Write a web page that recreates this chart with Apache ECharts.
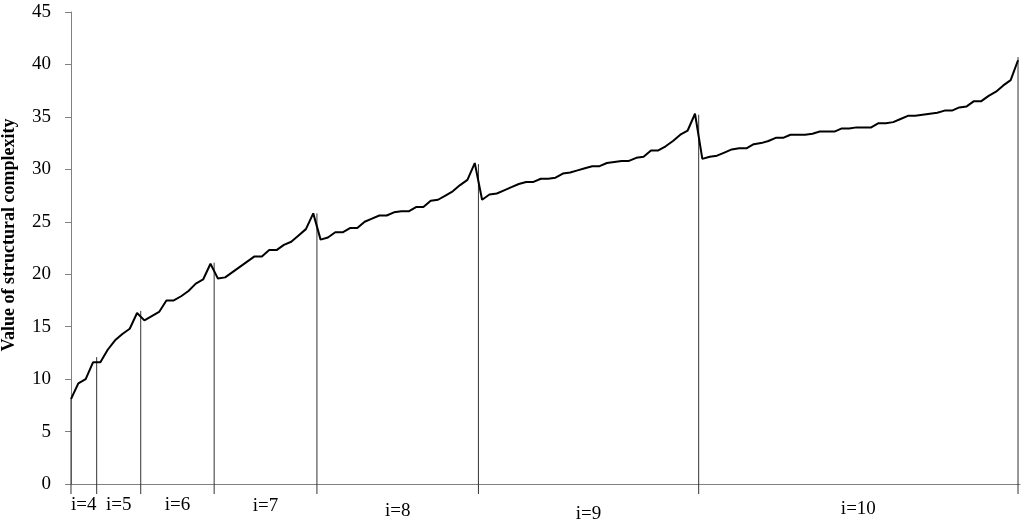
<!DOCTYPE html>
<html>
<head>
<meta charset="utf-8">
<script src="https://cdn.jsdelivr.net/npm/echarts@6/dist/echarts.min.js"></script>
<style>html,body{margin:0;background:#fff}#chart{width:1024px;height:524px}</style>
</head>
<body>
<div id="chart"></div>
<script>
// group labels
var groupNames = ['i=4', 'i=5', 'i=6', 'i=7', 'i=8', 'i=9', 'i=10'];

// structural complexity values, one array per group
var g4 = [8.1, 9.6, 10.0, 11.6];
var g5 = [11.6, 12.8, 13.7, 14.3, 14.8, 16.3];
var g6 = [15.6, 16.0, 16.4, 17.5, 17.5, 17.9, 18.4, 19.1, 19.5, 21.0];
var g7 = [19.6, 19.7, 20.2, 20.7, 21.2, 21.7, 21.7, 22.3, 22.3, 22.8, 23.1, 23.7, 24.3, 25.8];
var g8 = [23.3, 23.5, 24.0, 24.0, 24.4, 24.4, 25.0, 25.3, 25.6, 25.6, 25.9, 26.0, 26.0, 26.4, 26.4,
          27.0, 27.1, 27.5, 27.9, 28.5, 29.0, 30.6];
var g9 = [27.1, 27.6, 27.7, 28.0, 28.3, 28.6, 28.8, 28.8, 29.1, 29.1, 29.2, 29.6, 29.7, 29.9, 30.1,
          30.3, 30.3, 30.6, 30.7, 30.8, 30.8, 31.1, 31.2, 31.8, 31.8, 32.2, 32.7, 33.3, 33.7, 35.3];
var g10 = [31.0, 31.2, 31.3, 31.6, 31.9, 32.0, 32.0, 32.4, 32.5, 32.7, 33.0, 33.0, 33.3, 33.3, 33.3,
           33.4, 33.6, 33.6, 33.6, 33.9, 33.9, 34.0, 34.0, 34.0, 34.4, 34.4, 34.5, 34.8, 35.1, 35.1,
           35.2, 35.3, 35.4, 35.6, 35.6, 35.9, 36.0, 36.5, 36.5, 37.0, 37.4, 38.0, 38.5, 40.4];

// height of the separator lines between groups
var boundaryTops = [8.1, 12.1, 16.5, 21.1, 25.8, 30.5, 35.2, 40.7];

var groups = [g4, g5, g6, g7, g8, g9, g10];
var values = [].concat.apply([], groups);

// separator positions (in point index units)
var bounds = [0];
var n = 0;
groups.forEach(function (g, i) {
    n += g.length;
    bounds.push(i < groups.length - 1 ? n - 0.5 : n - 1);
});

// extra drop of each group label under the axis
var labelDrop = [21, 21, 21, 22, 27, 30, 25];

var chart = echarts.init(document.getElementById('chart'));
var serif = '"Liberation Serif", "Times New Roman", serif';

var option = {
    animation: false,
    grid: { left: 66, right: 4, top: 12, bottom: 40 },
    xAxis: {
        type: 'value',
        min: -0.68,
        max: 129.27,
        axisLine: { show: true, lineStyle: { color: '#808080', width: 1 } },
        axisTick: { show: false },
        axisLabel: { show: false },
        splitLine: { show: false }
    },
    yAxis: {
        type: 'value',
        min: 0,
        max: 45,
        interval: 5,
        axisLine: { show: true, lineStyle: { color: '#808080', width: 1 } },
        axisTick: { show: true, length: 6, lineStyle: { color: '#808080' } },
        axisLabel: { fontFamily: serif, fontSize: 19, color: '#000', margin: 15 },
        splitLine: { show: false }
    },
    graphic: [{
        type: 'text',
        x: 9,
        y: 235,
        rotation: Math.PI / 2,
        style: {
            text: 'Value of structural complexity',
            font: 'bold 18px ' + serif,
            fill: '#000',
            align: 'center',
            verticalAlign: 'middle'
        }
    }],
    series: [
        {
            type: 'line',
            data: values.map(function (v, i) { return [i, v]; }),
            showSymbol: false,
            lineStyle: { color: '#000', width: 2 },
            z: 3
        },
        {
            type: 'custom',
            clip: false,
            data: bounds.map(function (b, i) { return [b, boundaryTops[i]]; }),
            encode: { x: 0, y: 1 },
            renderItem: function (params, api) {
                var top = api.coord([api.value(0), api.value(1)]);
                var base = api.coord([api.value(0), 0]);
                return {
                    type: 'line',
                    shape: { x1: top[0], y1: top[1], x2: top[0], y2: base[1] + 10 },
                    style: { stroke: '#333', lineWidth: 1 }
                };
            },
            z: 2
        },
        {
            type: 'custom',
            clip: false,
            data: groupNames.map(function (name, i) { return [(bounds[i] + bounds[i + 1]) / 2, 0, i]; }),
            encode: { x: 0, y: 1 },
            renderItem: function (params, api) {
                var idx = api.value(2);
                var pt = api.coord([api.value(0), 0]);
                return {
                    type: 'text',
                    x: pt[0],
                    y: pt[1] + labelDrop[idx],
                    style: {
                        text: groupNames[idx],
                        font: '19px ' + serif,
                        fill: '#000',
                        align: 'center',
                        verticalAlign: 'middle'
                    }
                };
            }
        }
    ]
};
chart.setOption(option);
</script>
</body>
</html>
